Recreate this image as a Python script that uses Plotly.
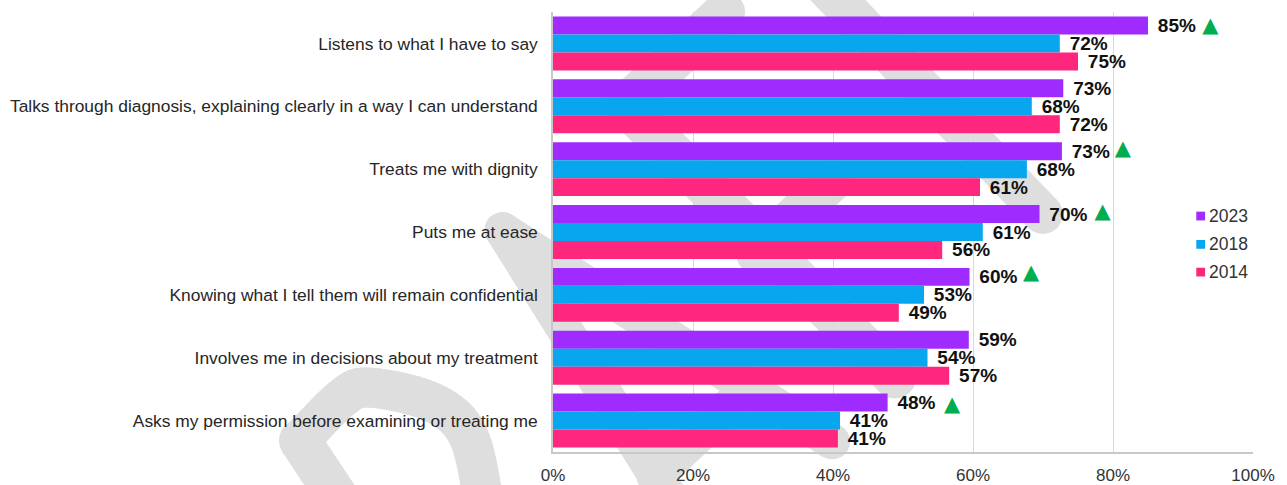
import math
import plotly.graph_objects as go

W, H = 1287, 485
L, R, T, B = 552.5, 33.5, 11.5, 32.5

categories = [
    "Listens to what I have to say",
    "Talks through diagnosis, explaining clearly in a way I can understand",
    "Treats me with dignity",
    "Puts me at ease",
    "Knowing what I tell them will remain confidential",
    "Involves me in decisions about my treatment",
    "Asks my permission before examining or treating me",
]
positions = [0, 1, 2, 3, 4, 5, 6]
values_2023 = [85.0, 72.9, 72.7, 69.5, 59.5, 59.4, 47.8]
values_2018 = [72.4, 68.4, 67.7, 61.4, 53.0, 53.5, 41.0]
values_2014 = [75.0, 72.4, 61.0, 55.6, 49.4, 56.6, 40.7]
labels_2023 = ["85%", "73%", "73%", "70%", "60%", "59%", "48%"]
labels_2018 = ["72%", "68%", "68%", "61%", "53%", "54%", "41%"]
labels_2014 = ["75%", "72%", "61%", "56%", "49%", "57%", "41%"]
sig_x = [93.9, 81.4, 78.5, 68.3, 57.0]
sig_y = [-0.27, 1.69, 2.69, 3.67, 5.77]
x_ticks = [0, 20, 40, 60, 80, 100]
x_tick_labels = ["0%", "20%", "40%", "60%", "80%", "100%"]
series_names = ["2023", "2018", "2014"]
series_colors = ["#9F2BFF", "#08A6EE", "#FF267E"]
series_values = [values_2023, values_2018, values_2014]
series_labels = [labels_2023, labels_2018, labels_2014]

FONT = "Liberation Sans"
GREY = "#DEDEDE"


def px(x):
    return (x - L) / (W - L - R)


def py(y):
    return 1 - (y - T) / (H - T - B)


def poly(points):
    return "M" + " L".join(f"{px(x):.5f},{py(y):.5f}" for x, y in points) + " Z"


def smooth(points, n=10):
    pts = [points[0]] + list(points) + [points[-1]]
    out = []
    for i in range(1, len(pts) - 2):
        p0, p1, p2, p3 = pts[i - 1], pts[i], pts[i + 1], pts[i + 2]
        for k in range(n):
            t = k / n
            out.append(tuple(
                0.5 * (2 * p1[a] + (p2[a] - p0[a]) * t + (2 * p0[a] - 5 * p1[a] + 4 * p2[a] - p3[a]) * t * t
                       + (3 * p1[a] - p0[a] - 3 * p2[a] + p3[a]) * t ** 3) for a in (0, 1)))
    out.append(points[-1])
    return out


def stroke_paths(points, width):
    paths = []
    r = width / 2
    for (x0, y0), (x1, y1) in zip(points, points[1:]):
        d = math.hypot(x1 - x0, y1 - y0) or 1
        nx, ny = -(y1 - y0) / d * r, (x1 - x0) / d * r
        paths.append(poly([(x0 + nx, y0 + ny), (x1 + nx, y1 + ny), (x1 - nx, y1 - ny), (x0 - nx, y0 - ny)]))
    for x, y in points:
        circle = [(x + r * math.cos(a * math.pi / 12), y + r * math.sin(a * math.pi / 12)) for a in range(24)]
        paths.append(poly(circle))
    return paths


watermark_strokes = [
    # R
    ([(299, 441), (358, 530)], 42),
    (smooth([(299, 441), (343, 397), (370, 388), (430, 402), (465, 431), (480, 485), (482, 530)]), 40),
    # A
    ([(502, 230), (714, 570)], 36),
    ([(502, 230), (832, 442)], 36),
    ([(654, 477), (748, 389)], 36),
    # F
    ([(625, 105), (895, 378)], 42),
    ([(625, 105), (724, 12)], 42),
    ([(757, 254), (831, 181)], 42),
    # T
    ([(800, -40), (1043, 214)], 40),
]

shapes = []
for pts, width in watermark_strokes:
    for path in stroke_paths(pts, width):
        shapes.append(dict(type="path", xref="paper", yref="paper", path=path, fillcolor=GREY,
                           line=dict(width=0), layer="below"))

annotations = []
legend_rows = [216, 244.4, 272.2]
for name, color, y in zip(series_names, series_colors, legend_rows):
    shapes.append(dict(type="rect", xref="paper", yref="paper", x0=px(1196.7), x1=px(1205.5),
                       y0=py(y - 4.4), y1=py(y + 4.4), fillcolor=color, line=dict(width=0)))
    annotations.append(dict(xref="paper", yref="paper", x=px(1207), y=py(y), text=name, showarrow=False,
                            xanchor="left", yanchor="middle",
                            font=dict(family=FONT, size=17.5, color="#333333")))

fig = go.Figure()
for name, color, vals, labs in zip(series_names, series_colors, series_values, series_labels):
    fig.add_trace(go.Bar(
        name=name, y=positions, x=vals, orientation="h", marker=dict(color=color, line=dict(width=0)),
        text=["\u00a0\u200a" + s for s in labs], textposition="outside", cliponaxis=False, textangle=0,
        constraintext="none",
        textfont=dict(family=FONT, size=19, color="#111111", weight="bold"), showlegend=False,
    ))
fig.add_trace(go.Scatter(
    x=sig_x, y=sig_y, mode="text", text=["\u25b2"] * len(sig_x), textposition="middle center",
    showlegend=False, cliponaxis=False,
    textfont=dict(family="DejaVu Sans", size=21, color="#00AE50"),
))

fig.update_layout(
    width=W, height=H, margin=dict(l=L, r=R, t=T, b=B, autoexpand=False),
    paper_bgcolor="rgba(0,0,0,0)", plot_bgcolor="rgba(0,0,0,0)",
    barmode="group", bargap=0.142, bargroupgap=0,
    showlegend=False, shapes=shapes, annotations=annotations,
    font=dict(family=FONT, size=17, color="#333333"),
    xaxis=dict(range=[0, 100], tickmode="array", tickvals=x_ticks, ticktext=x_tick_labels,
               showgrid=True, gridcolor="#D9D9D9", gridwidth=1, zeroline=False,
               showline=True, linecolor="#C8C8C8", linewidth=1.5,
               ticks="outside", ticklen=7, tickcolor="rgba(0,0,0,0)",
               tickfont=dict(family=FONT, size=17, color="#333333")),
    yaxis=dict(range=[6.5, -0.5], tickmode="array", tickvals=positions, ticktext=categories,
               showgrid=False, zeroline=False, showline=True, linecolor="#C8C8C8", linewidth=1.5,
               ticks="outside", ticklen=10, tickcolor="rgba(0,0,0,0)",
               tickfont=dict(family=FONT, size=17.4, color="#262626")),
)

fig.write_html("out.html", post_script="document.body.style.margin='0';",
               config={"displayModeBar": False})
